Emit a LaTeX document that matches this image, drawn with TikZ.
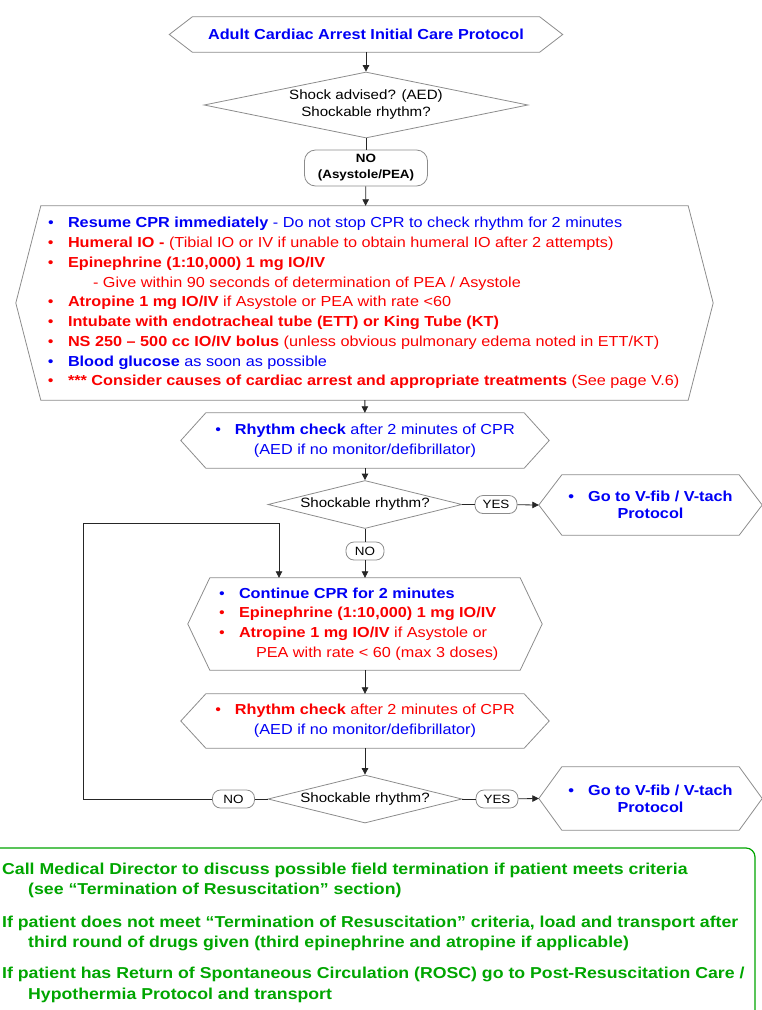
\documentclass[tikz,border=0pt]{standalone}
\usepackage{fontspec}
\setmainfont[FakeStretch=1.12]{Liberation Sans}
\usetikzlibrary{shapes.geometric,arrows.meta,positioning}
\definecolor{protoblue}{RGB}{0,0,245}
\definecolor{protored}{RGB}{250,0,0}
\definecolor{protogreen}{RGB}{0,165,0}
\definecolor{framegray}{RGB}{140,140,140}
% hexagon frame round a node: name, depth of the points
\newcommand\hexframe[2]{\draw[frame] (#1.north west) -- (#1.north east) -- ([xshift=#2]#1.east)
  -- (#1.south east) -- (#1.south west) -- ([xshift=-#2]#1.west) -- cycle;}
\newcommand\itm[2]{\makebox[20pt][l]{\textcolor{#1}{\textbullet}}\textcolor{#1}{#2}}
\begin{document}
\begin{tikzpicture}
[x=1pt,y=-1pt, frame/.style={draw=framegray,line width=.8pt},
 body/.style={inner sep=0pt},
 txt/.style={font=\fontsize{14.5}{19.75}\selectfont},
 dec/.style={diamond,frame,inner sep=0pt,align=center,font=\fontsize{13.5}{17}\selectfont},
 tag/.style={frame,rounded corners=8pt,minimum width=42pt,minimum height=18pt,inner sep=0pt,font=\fontsize{12}{14}\selectfont},
 conn/.style={draw=black!85,line width=.8pt},
 arr/.style={conn,-{Triangle[length=6.5pt,width=6.5pt]}}]
\useasboundingbox (0,0) rectangle (761,1010);
% top
\node[body,minimum width=347pt,minimum height=35pt,font=\fontsize{14.5}{16}\selectfont\bfseries,text=protoblue] (title) at (366,34.5) {Adult Cardiac Arrest Initial Care Protocol};
\hexframe{title}{23pt}
\node[dec,aspect=4.9,minimum width=324pt,minimum height=66pt] (shock) at (366,105) {Shock advised? (AED)\\Shockable rhythm?};
\node[frame,rounded corners=11pt,minimum width=123pt,minimum height=36pt,inner sep=0pt,align=center,font=\fontsize{12}{16}\selectfont\bfseries] (asys) at (366,168) {NO\\(Asystole/PEA)};
% first care
\node[body,minimum width=647pt,minimum height=194pt] (care) at (364.5,303) {};
\hexframe{care}{25pt}
\node[body,txt,align=left,anchor=west] (caretext) at ([xshift=7pt]care.west) {%
\itm{protoblue}{\textbf{Resume CPR immediately} - Do not stop CPR to check rhythm for 2 minutes}\\
\itm{protored}{\textbf{Humeral IO -} (Tibial IO or IV if unable to obtain humeral IO after 2 attempts)}\\
\itm{protored}{\textbf{Epinephrine (1:10,000) 1 mg IO/IV}}\\
\hspace*{45pt}\textcolor{protored}{- Give within 90 seconds of determination of PEA / Asystole}\\
\itm{protored}{\textbf{Atropine 1 mg IO/IV} if Asystole or PEA with rate <60}\\
\itm{protored}{\textbf{Intubate with endotracheal tube (ETT) or King Tube (KT)}}\\
\itm{protored}{\textbf{NS 250 – 500 cc IO/IV bolus} (unless obvious pulmonary edema noted in ETT/KT)}\\
\itm{protoblue}{\textbf{Blood glucose} as soon as possible}\\
\itm{protored}{\textbf{*** Consider causes of cardiac arrest and appropriate treatments} (See page V.6)}};
% first check
\node[body,txt,align=center,text=protoblue,minimum width=318pt,minimum height=55pt] (rca) at (365,440.5) {\textbullet\hspace{14pt}\textbf{Rhythm check} after 2 minutes of CPR\\(AED if no monitor/defibrillator)};
\hexframe{rca}{25pt}
\node[dec,aspect=4,minimum width=194pt,minimum height=48pt] (da) at (365,504.5) {Shockable rhythm?};
\node[tag] (yesa) at (496,504.5) {YES};
\node[body,align=center,text=protoblue,minimum width=177pt,minimum height=60pt,font=\fontsize{14.5}{17}\selectfont\bfseries] (vfa) at (650.5,505) {\textbullet\hspace{14pt}Go to V-fib / V-tach\\Protocol};
\hexframe{vfa}{23pt}
\coordinate (vfa tip) at ([xshift=-23pt]vfa.west);
\node[tag,minimum width=38pt] (noa) at (365,551) {NO};
% second care
\node[body,minimum width=310pt,minimum height=92pt] (cont) at (365,624) {};
\hexframe{cont}{22pt}
\node[body,txt,align=left,anchor=west] (conttext) at ([xshift=9pt]cont.west) {%
\itm{protoblue}{\textbf{Continue CPR for 2 minutes}}\\
\itm{protored}{\textbf{Epinephrine (1:10,000) 1 mg IO/IV}}\\
\itm{protored}{\textbf{Atropine 1 mg IO/IV} if Asystole or}\\
\hspace*{37pt}\textcolor{protored}{PEA with rate < 60 (max 3 doses)}};
% second check
\node[body,txt,align=center,minimum width=318pt,minimum height=54pt] (rcb) at (365,721) {\textcolor{protored}{\textbullet\hspace{14pt}\textbf{Rhythm check} after 2 minutes of CPR}\\\textcolor{protoblue}{(AED if no monitor/defibrillator)}};
\hexframe{rcb}{25pt}
\node[dec,aspect=4,minimum width=194pt,minimum height=48pt] (db) at (365,799) {Shockable rhythm?};
\node[tag] (yesb) at (497,799) {YES};
\node[tag] (nob) at (233.5,799) {NO};
\node[body,align=center,text=protoblue,minimum width=177pt,minimum height=63pt,font=\fontsize{14.5}{17}\selectfont\bfseries] (vfb) at (650.5,798.5) {\textbullet\hspace{14pt}Go to V-fib / V-tach\\Protocol};
\hexframe{vfb}{23pt}
\coordinate (vfb tip) at ([xshift=-23pt]vfb.west);
\coordinate (loop) at (83,523);\coordinate (drop) at (279,523);
% connectors
\draw[arr] (title) -- (shock);\draw[conn] (shock) -- (asys);\draw[arr] (asys) -- (care);
\draw[arr] (care) -- (rca);\draw[arr] (rca) -- (da);
\draw[conn] (da) -- (yesa);\draw[arr] (yesa) -- (vfa tip);
\draw[conn] (da) -- (noa);\draw[arr] (noa) -- (cont);
\draw[arr] (cont) -- (rcb);\draw[arr] (rcb) -- (db);
\draw[conn] (db) -- (yesb);\draw[arr] (yesb) -- (vfb tip);
\draw[conn] (db) -- (nob);\draw[arr] (nob) -| (loop) -- (drop) -- (drop |- cont.north);
% notes
\draw[draw=protogreen,line width=1.2pt,rounded corners=9pt] (-10,848) rectangle (755,1030);
\begin{scope}[every node/.style={anchor=west,inner sep=0pt,align=left,text=protogreen,font=\fontsize{15.8}{20.5}\selectfont\bfseries}]
\node (calla) at (2,880.5) {Call Medical Director to discuss possible field termination if patient meets criteria\\\hspace*{26pt}(see “Termination of Resuscitation” section)};
\node (callb) at (2,933.5) {If patient does not meet “Termination of Resuscitation” criteria, load and transport after\\\hspace*{26pt}third round of drugs given (third epinephrine and atropine if applicable)};
\node (callc) at (2,985) {If patient has Return of Spontaneous Circulation (ROSC) go to Post-Resuscitation Care /\\\hspace*{26pt}Hypothermia Protocol and transport};
\end{scope}
\end{tikzpicture}
\end{document}
